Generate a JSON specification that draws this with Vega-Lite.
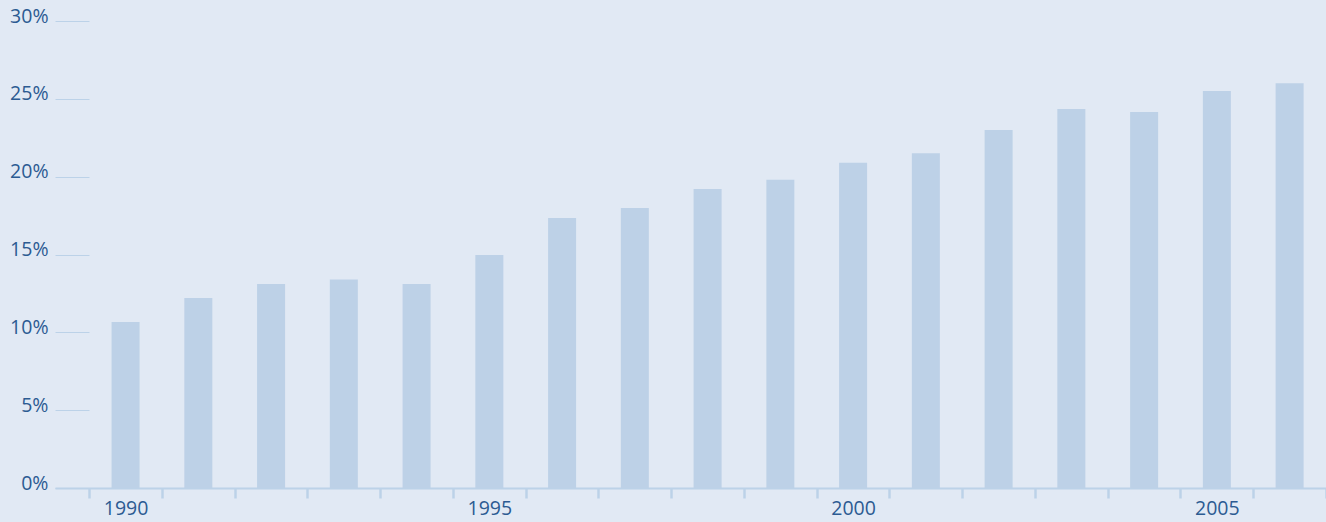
{
  "$schema": "https://vega.github.io/schema/vega-lite/v6.json",
  "autosize": "none",
  "width": 1271,
  "height": 467,
  "padding": {"left": 55, "top": 21, "right": 0, "bottom": 34},
  "background": "#e1e9f4",
  "config": {
    "view": {"stroke": null},
    "font": "Open Sans"
  },
  "data": {
    "values": [
      {"year": 1990, "share": 0.1066},
      {"year": 1991, "share": 0.122},
      {"year": 1992, "share": 0.131},
      {"year": 1993, "share": 0.134},
      {"year": 1994, "share": 0.131},
      {"year": 1995, "share": 0.1497},
      {"year": 1996, "share": 0.1734},
      {"year": 1997, "share": 0.1799},
      {"year": 1998, "share": 0.192},
      {"year": 1999, "share": 0.198},
      {"year": 2000, "share": 0.209},
      {"year": 2001, "share": 0.215},
      {"year": 2002, "share": 0.230},
      {"year": 2003, "share": 0.2435},
      {"year": 2004, "share": 0.2415},
      {"year": 2005, "share": 0.255},
      {"year": 2006, "share": 0.260}
    ]
  },
  "mark": {"type": "bar", "color": "#bdd1e7", "width": {"band": 0.385}},
  "encoding": {
    "x": {
      "field": "year",
      "type": "ordinal",
      "scale": {"paddingInner": 0, "paddingOuter": 0.235, "align": 1},
      "axis": {
        "title": null,
        "labelAngle": 0,
        "labelExpr": "datum.value % 5 == 0 ? datum.label : ''",
        "labelFontSize": 19.5,
        "labelColor": "#2c5b92",
        "labelBaseline": "top",
        "labelPadding": 1,
        "tickBand": "extent",
        "tickSize": 10,
        "tickWidth": 2.5,
        "tickColor": "#bcd2e8",
        "domainColor": "#bcd2e8",
        "domainWidth": 2,
        "grid": false
      }
    },
    "y": {
      "field": "share",
      "type": "quantitative",
      "scale": {"domain": [0, 0.3]},
      "axis": {
        "title": null,
        "format": "~%",
        "values": [0, 0.05, 0.1, 0.15, 0.2, 0.25, 0.3],
        "labelFontSize": 19.5,
        "labelColor": "#2c5b92",
        "labelBaseline": "alphabetic",
        "labelOffset": 1,
        "labelPadding": 41,
        "tickSize": -34,
        "tickWidth": 1,
        "tickColor": "#bcd2e8",
        "domain": false,
        "grid": false
      }
    }
  }
}
